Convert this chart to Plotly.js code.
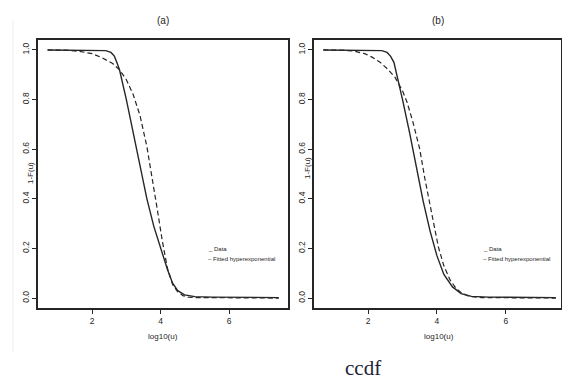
<!DOCTYPE html>
<html><head><meta charset="utf-8">
<script src="https://cdn.plot.ly/plotly-3.0.1.min.js"></script>
<style>html,body{margin:0;padding:0;background:#fff}#c{width:562px;height:381px}</style>
</head><body><div id="c"></div>
<script>
// Panel (a)
const aDataX = [0.7, 1.5, 2.0, 2.4, 2.55, 2.65, 2.72, 2.8, 3.0, 3.2, 3.4, 3.6, 3.8, 4.0, 4.2, 4.35, 4.5, 4.7, 5.0, 5.5, 6.0, 7.45];
const aDataY = [1.0, 1.0, 1.0, 0.997, 0.99, 0.975, 0.95, 0.92, 0.80, 0.67, 0.53, 0.40, 0.29, 0.20, 0.115, 0.06, 0.03, 0.013, 0.006, 0.004, 0.003, 0.002];
const aFitX = [0.7, 1.2, 1.6, 2.0, 2.3, 2.6, 2.8, 3.0, 3.2, 3.4, 3.6, 3.75, 3.9, 4.05, 4.2, 4.35, 4.5, 4.65, 4.8, 5.0, 5.5, 7.45];
const aFitY = [1.0, 0.999, 0.995, 0.985, 0.968, 0.945, 0.92, 0.88, 0.82, 0.735, 0.61, 0.49, 0.36, 0.23, 0.12, 0.055, 0.025, 0.01, 0.004, 0.002, 0.001, 0.0];
// Panel (b)
const bDataX = [0.7, 1.5, 2.0, 2.4, 2.55, 2.65, 2.75, 2.87, 3.0, 3.2, 3.4, 3.6, 3.8, 4.0, 4.2, 4.45, 4.7, 5.0, 5.5, 6.5, 7.45];
const bDataY = [1.0, 1.0, 1.0, 0.997, 0.99, 0.975, 0.95, 0.88, 0.80, 0.67, 0.53, 0.39, 0.27, 0.17, 0.095, 0.045, 0.018, 0.007, 0.004, 0.003, 0.002];
const bFitX = [0.7, 1.2, 1.6, 1.9, 2.1, 2.35, 2.55, 2.78, 3.0, 3.13, 3.3, 3.5, 3.65, 3.8, 4.04, 4.2, 4.38, 4.55, 4.72, 4.95, 5.3, 7.45];
const bFitY = [1.0, 0.999, 0.995, 0.985, 0.972, 0.95, 0.925, 0.89, 0.835, 0.79, 0.71, 0.60, 0.48, 0.37, 0.206, 0.13, 0.073, 0.04, 0.02, 0.006, 0.002, 0.0];

const panelTitles = ["(a)", "(b)"];
const seriesNames = ["Data", "Fitted hyperexponential"];
const xTicks = [2, 4, 6];
const yTicks = [0.0, 0.2, 0.4, 0.6, 0.8, 1.0];
const yTickText = ["0.0", "0.2", "0.4", "0.6", "0.8", "1.0"];
const xTitle = "log10(u)";
const yTitle = "1-F(u)";
const caption = "ccdf";

const W = 562, H = 381;
const px = x => x / W, py = y => 1 - y / H;
const ink = "#262626";
const font = "Liberation Sans, Arial, sans-serif";

const solid = {color: ink, width: 1.4};
const dashed = {color: ink, width: 1.2, dash: "5px,3px"};

const traces = [
  {x: aDataX, y: aDataY, name: seriesNames[0], mode: "lines", line: solid, xaxis: "x", yaxis: "y", showlegend: false},
  {x: aFitX, y: aFitY, name: seriesNames[1], mode: "lines", line: dashed, xaxis: "x", yaxis: "y", showlegend: false},
  {x: bDataX, y: bDataY, name: seriesNames[0], mode: "lines", line: solid, xaxis: "x2", yaxis: "y2", showlegend: false},
  {x: bFitX, y: bFitY, name: seriesNames[1], mode: "lines", line: dashed, xaxis: "x2", yaxis: "y2", showlegend: false}
];

function xax(dom, range, anchor) {
  return {domain: dom, range: range, anchor: anchor, tickvals: xTicks, ticks: "outside", ticklen: 4, tickwidth: 1,
    tickcolor: ink, showline: true, linecolor: ink, linewidth: 2, mirror: true, showgrid: false, zeroline: false,
    tickfont: {family: font, size: 8.5, color: ink}};
}
function yax(dom, anchor) {
  return {domain: dom, range: [-0.04, 1.04], anchor: anchor, tickvals: yTicks, ticktext: yTickText, tickangle: -90,
    ticks: "outside", ticklen: 4, tickwidth: 1, tickcolor: ink, showline: true, linecolor: ink, linewidth: 2,
    mirror: true, showgrid: false, zeroline: false, tickfont: {family: font, size: 8.5, color: ink}};
}

const yDom = [py(308), py(40)];
const anns = [];
function txt(x, y, t, size, extra) {
  anns.push(Object.assign({xref: "paper", yref: "paper", x: px(x), y: py(y), text: t, showarrow: false,
    font: {family: font, size: size, color: ink}, xanchor: "center", yanchor: "middle"}, extra || {}));
}
txt(163, 20, panelTitles[0], 10);
txt(438, 20, panelTitles[1], 10);
txt(163, 336, xTitle, 8);
txt(439, 336, xTitle, 8);
txt(30, 173, yTitle, 8, {textangle: -90});
txt(307, 168, yTitle, 8, {textangle: -90});
const lf = "Liberation Sans Narrow, Liberation Sans, Arial, sans-serif";
txt(206, 249, "_ " + seriesNames[0], 6, {xanchor: "left", font: {family: lf, size: 6, color: ink}});
txt(206, 259, "– " + seriesNames[1], 6, {xanchor: "left", font: {family: lf, size: 6, color: ink}});
txt(481, 249, "_ " + seriesNames[0], 6, {xanchor: "left", font: {family: lf, size: 6, color: ink}});
txt(481, 259, "– " + seriesNames[1], 6, {xanchor: "left", font: {family: lf, size: 6, color: ink}});
txt(363, 368, caption, 21, {font: {family: "Liberation Serif, DejaVu Serif, serif", size: 21, color: "#1c2238"}});

const layout = {
  width: W, height: H, margin: {l: 0, r: 0, t: 0, b: 0}, paper_bgcolor: "#fff", plot_bgcolor: "#fff",
  showlegend: false,
  xaxis: xax([px(38), px(288)], [0.42, 7.72], "y"),
  yaxis: yax(yDom, "x"),
  xaxis2: xax([px(314), px(561)], [0.43, 7.6], "y2"),
  yaxis2: yax(yDom, "x2"),
  annotations: anns,
  shapes: [
    {type: "line", xref: "paper", yref: "paper", x0: px(13), x1: px(13), y0: py(20), y1: py(352), line: {color: "#eeeeee", width: 1}}
  ]
};
Plotly.newPlot("c", traces, layout, {staticPlot: true});
</script></body></html>
